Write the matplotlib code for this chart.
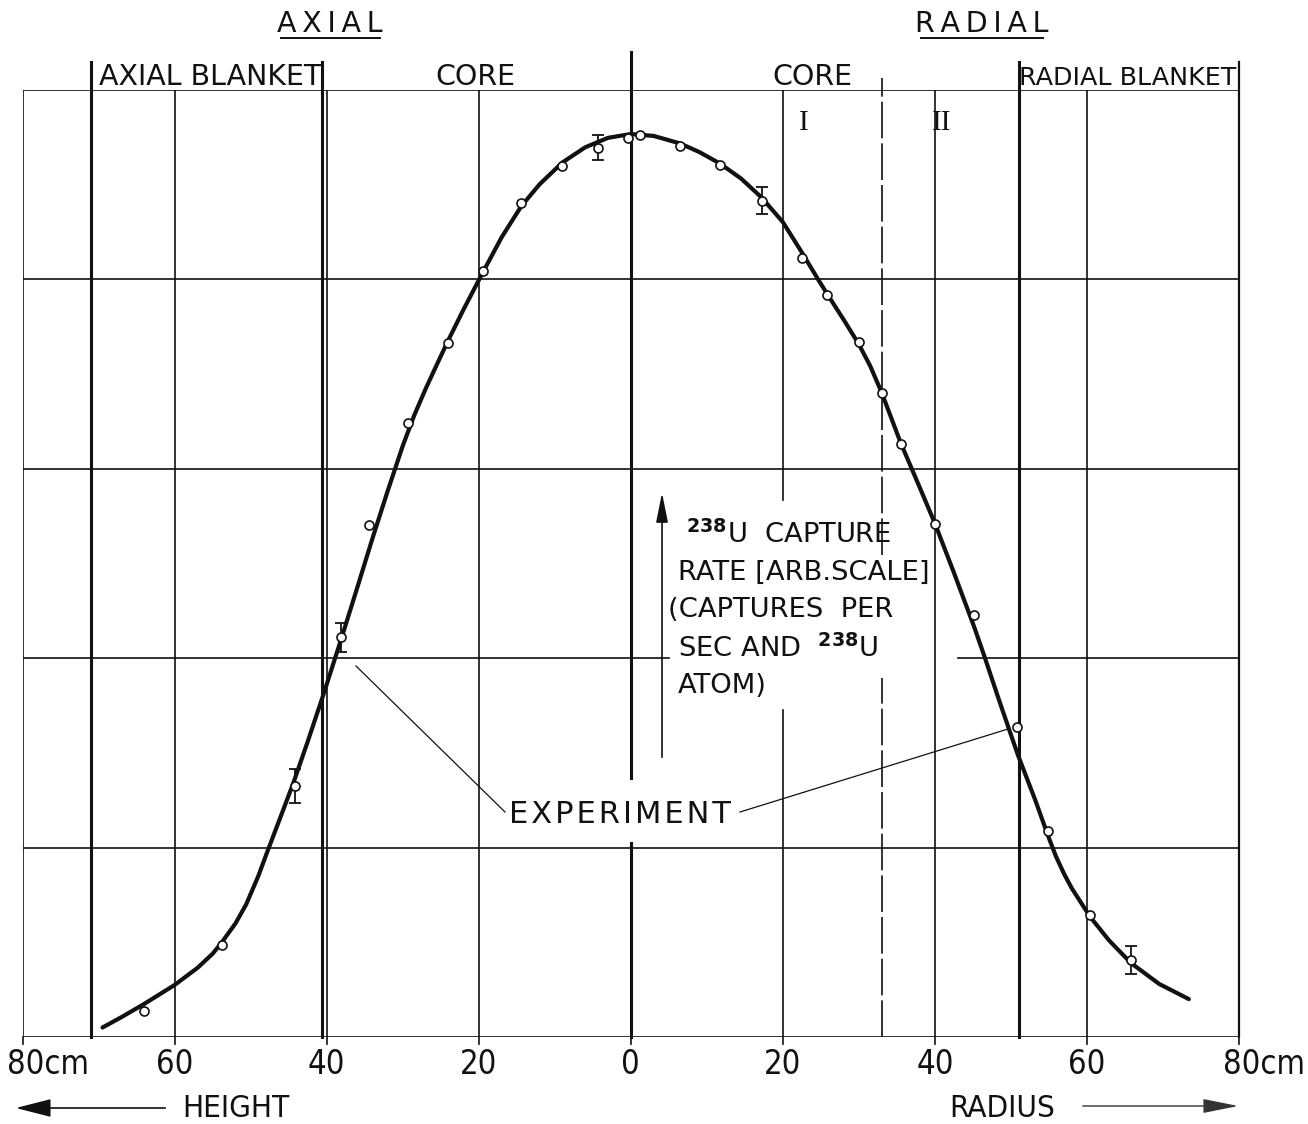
import matplotlib
matplotlib.use("Agg")
import matplotlib.pyplot as plt
from matplotlib import font_manager as fm
from matplotlib.lines import Line2D
from matplotlib.patches import FancyArrowPatch

# ---------------------------------------------------------------------------
# Data: position in cm (negative = axial height, positive = radius)
# ---------------------------------------------------------------------------
exp_pos = [-64.1, -53.8, -44.2, -38.1, -34.4, -29.3, -24.1, -19.4, -14.4,
           -9.1, -4.3, -0.4, 1.2, 6.5, 11.7, 17.2, 22.5, 25.8, 30.0, 33.0,
           35.5, 40.0, 45.2, 50.8, 54.9, 60.4, 65.8]
exp_rate = [0.139, 0.484, 1.325, 2.11, 2.70, 3.24, 3.66, 4.04, 4.40,
            4.595, 4.693, 4.746, 4.76, 4.70, 4.60, 4.413, 4.11, 3.915, 3.668, 3.397,
            3.13, 2.706, 2.229, 1.637, 1.089, 0.644, 0.406]

err_pos = [-44.2, -38.1, -4.3, 17.2, 65.8]
err_rate = [1.325, 2.11, 4.693, 4.413, 0.406]
err_half = [0.088, 0.077, 0.066, 0.070, 0.075]

curve_pos = [-69.5, -67, -64, -60, -57, -55, -53.8, -52, -50.6, -49, -47.8, -46, -44.4,
             -42.5, -40.5, -38.1, -36, -34, -32, -30, -28.5, -27, -25.5, -24.1, -22,
             -19.4, -17, -14.4, -12, -9, -6, -3, 0, 3, 6.5, 9, 11.7, 14.5, 17.2, 20,
             22.5, 24.6, 26, 28, 30, 31.5, 33, 35.5, 38, 40, 42.5, 45.2, 46.5, 48.5,
             50.9, 53.2, 54.9, 55.9, 57, 58, 60.4, 62.9, 65.8, 69.5, 73.4]
curve_rate = [0.05, 0.105, 0.175, 0.275, 0.365, 0.44, 0.50, 0.60, 0.70, 0.85, 0.98, 1.17, 1.34,
              1.56, 1.80, 2.10, 2.37, 2.63, 2.88, 3.12, 3.28, 3.42, 3.55, 3.67, 3.84,
              4.04, 4.22, 4.385, 4.50, 4.615, 4.695, 4.745, 4.765, 4.755, 4.715, 4.67, 4.61,
              4.53, 4.43, 4.30, 4.14, 4.00, 3.91, 3.785, 3.655, 3.54, 3.40, 3.135, 2.90,
              2.71, 2.45, 2.16, 2.01, 1.77, 1.49, 1.25, 1.06, 0.955, 0.86, 0.785, 0.635,
              0.51, 0.39, 0.28, 0.20]

tick_pos = [-80, -60, -40, -20, 0, 20, 40, 60, 80]
tick_text = ["80cm", "60", "40", "20", "0", "20", "40", "60", "80cm"]
grid_rates = [0, 1, 2, 3, 4, 5]

# region boundaries (cm)
axial_blanket_edge = -71.0
axial_core_edge = -40.6
radial_core_edge = 51.0
zone_edge = 33.0

# ---------------------------------------------------------------------------
W, H = 1308, 1124
fig = plt.figure(figsize=(W / 100, H / 100), dpi=100)
fig.patch.set_facecolor("white")

x_left, x_right = 22.7, 1239.0      # pixel span of the frame
y_top, y_bot = 89.5, 1037.0
ax = fig.add_axes([x_left / W, 1 - y_bot / H, (x_right - x_left) / W, (y_bot - y_top) / H])
ax.set_xlim(-80, 80)
ax.set_ylim(0, 5)
ax.axis("off")

INK = "#111111"

have_cond = any(f.name == "DejaVu Sans" and str(f.stretch) == "condensed"
                for f in fm.fontManager.ttflist)
COND = dict(family="DejaVu Sans", stretch="condensed" if have_cond else "normal")
NORM = dict(family="DejaVu Sans")


def ftext(xp, yp, s, **kw):
    """Text placed at pixel coordinates (y measured from the top)."""
    kw.setdefault("color", INK)
    return fig.text(xp / W, 1 - yp / H, s, **kw)


def fline(xs, ys, **kw):
    kw.setdefault("color", INK)
    fig.add_artist(Line2D([x / W for x in xs], [1 - y / H for y in ys], **kw))


# ---- frame and grid --------------------------------------------------------
thin = dict(color=INK, lw=1.2, zorder=1)
for r in grid_rates:
    if r == 2:
        ax.plot([-80, 5.0], [r, r], **thin)
        ax.plot([43.1, 80], [r, r], **thin)
    else:
        ax.plot([-80, 80], [r, r], **thin)

for g in [-60, -40, -20, 40, 60]:
    ax.plot([g, g], [0, 5], **thin)
ax.plot([20, 20], [0, 1.726], **thin)
ax.plot([20, 20], [2.834, 5], **thin)
ax.plot([-80, -80], [0, 5], **thin)
ax.plot([80, 80], [0, 5.145], color=INK, lw=1.6, clip_on=False)

thick = dict(color=INK, lw=2.2, clip_on=False, zorder=2)
for b in [axial_blanket_edge, axial_core_edge, radial_core_edge]:
    ax.plot([b, b], [0, 5.145], **thick)
ax.plot([0, 0], [0, 1.024], **thick)
ax.plot([0, 0], [1.367, 5.2], **thick)

dash = dict(color=INK, lw=1.2, ls=(0, (22, 3)), clip_on=False, zorder=1)
ax.plot([zone_edge, zone_edge], [0, 1.894], **dash)
ax.plot([zone_edge, zone_edge], [2.544, 5.06], **dash)

# bottom tick marks
for t in tick_pos:
    ax.plot([t, t], [0, -0.035], color=INK, lw=1.2, clip_on=False)

# ---- curve, measurements ---------------------------------------------------
ax.plot(curve_pos, curve_rate, color=INK, lw=3.0, solid_capstyle="round",
        solid_joinstyle="round", zorder=3)
ax.errorbar(err_pos, err_rate, yerr=err_half, fmt="none", ecolor=INK,
            elinewidth=1.3, capsize=4.5, capthick=1.3, zorder=4)
ax.plot(exp_pos, exp_rate, "o", mfc="white", mec=INK, ms=6.5, mew=1.2, zorder=5)

# ---- tick labels -----------------------------------------------------------
tick_px = [x_left + (t + 80) / 160 * (x_right - x_left) for t in tick_pos]
for xp, lab in zip(tick_px, tick_text):
    if lab == "80cm":
        ftext(xp - 16, 1074, lab, ha="left", va="baseline", fontsize=23.5, **COND)
    else:
        ftext(xp, 1074, lab, ha="center", va="baseline", fontsize=23.5, **COND)

# direction labels with arrows
ftext(182, 1117, "HEIGHT", ha="left", va="baseline", fontsize=22.5, **COND)
ftext(1055, 1117, "RADIUS", ha="right", va="baseline", fontsize=22.5, **COND)
fig.add_artist(FancyArrowPatch(
    (168 / W, 1 - 1108 / H), (13 / W, 1 - 1108 / H), transform=fig.transFigure,
    arrowstyle="-|>,head_length=1.1,head_width=0.28", mutation_scale=20,
    color=INK, lw=1.2))
fig.add_artist(FancyArrowPatch(
    (1080 / W, 1 - 1106 / H), (1241 / W, 1 - 1106 / H), transform=fig.transFigure,
    arrowstyle="-|>,head_length=1.1,head_width=0.22", mutation_scale=20,
    color="#333333", lw=1.0))

# ---- headings --------------------------------------------------------------
ts = "\u2009"
ftext(330, 32, ts.join("AXIAL"), ha="center", va="baseline", fontsize=20.5, **NORM)
fline([281, 380], [37.5, 37.5], lw=1.4)
ftext(982, 32, ts.join("RADIAL"), ha="center", va="baseline", fontsize=20.5, **NORM)
fline([921, 1043], [37.5, 37.5], lw=1.4)

ftext(210, 85, "AXIAL BLANKET", ha="center", va="baseline", fontsize=20.5, **NORM)
ftext(475, 85, "CORE", ha="center", va="baseline", fontsize=20.5, **NORM)
ftext(812, 85, "CORE", ha="center", va="baseline", fontsize=20.5, **NORM)
ftext(1128, 85, "RADIAL BLANKET", ha="center", va="baseline", fontsize=18.3, **NORM)

serif = dict(family=["Liberation Serif", "DejaVu Serif"])
ftext(804, 130, "I", ha="center", va="baseline", fontsize=21, **serif)
ftext(942, 130, "II", ha="center", va="baseline", fontsize=21, **serif)

# ---- quantity label --------------------------------------------------------
ann = dict(ha="left", va="baseline", fontsize=19.7, **NORM)
ftext(686, 543, r"$^{\mathbf{238}}$U  CAPTURE", **ann)
ftext(678, 580, "RATE [ARB.SCALE]", **ann)
ftext(668, 617, "(CAPTURES  PER", **ann)
ftext(678, 657, r"SEC AND  $^{\mathbf{238}}$U", **ann)
ftext(678, 693, "ATOM)", **ann)

ax.annotate("", xy=(4.1, (y_bot - 490) / (y_bot - y_top) * 5),
            xytext=(4.1, (y_bot - 760) / (y_bot - y_top) * 5),
            arrowprops=dict(arrowstyle="-|>,head_length=0.9,head_width=0.18",
                            mutation_scale=20, color=INK, lw=1.2))

# ---- EXPERIMENT callout ----------------------------------------------------
ftext(620, 823, "\u200a".join("EXPERIMENT"), ha="center", va="baseline",
      fontsize=22, **NORM)
fline([356, 505], [666, 812], lw=0.9)
fline([740, 1008], [812, 729], lw=0.9)

fig.savefig("out.png", dpi=100, facecolor="white")
